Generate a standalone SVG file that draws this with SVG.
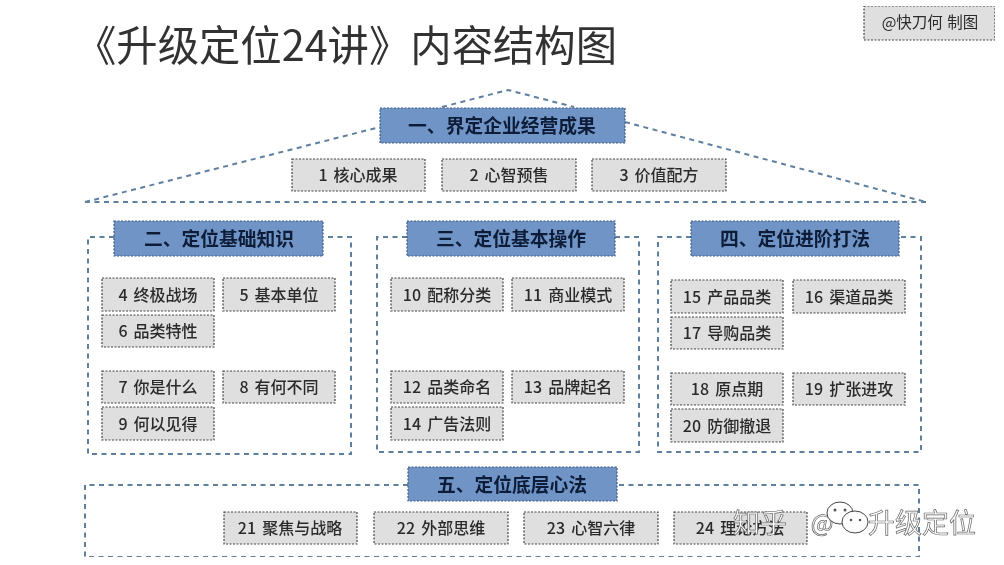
<svg xmlns="http://www.w3.org/2000/svg" width="1004" height="565" viewBox="0 0 1004 565">
<style>
text{font-family:"Noto Sans CJK SC","Liberation Sans",sans-serif;text-anchor:middle;dominant-baseline:central}
.i rect{fill:#dfdfdf;stroke:#444;stroke-width:1.2;stroke-dasharray:2 1.5}
.i text{font-size:16px;font-weight:500;fill:#2b2b2b;word-spacing:2.5px}
.h rect{fill:#6f94c6;stroke:#3f5b85;stroke-width:1.2;stroke-dasharray:2 1.5}
.h text{font-size:18.8px;font-weight:700;fill:#101f38}
.c *{fill:none;stroke:#5f7f9f;stroke-width:2;stroke-dasharray:5 4.5}
.wm{font-size:27px;fill:#fff;stroke:#666;stroke-width:.7}
.wb{fill:#fff;stroke:#444}
.wd{fill:#555}
</style>
<defs><filter id="soft" x="0" y="0" width="100%" height="100%"><feGaussianBlur stdDeviation="0.45"/></filter></defs>
<rect width="1004" height="565" fill="#fff"/>
<g filter="url(#soft)">
<text id="title" x="346" y="42" style="font-size:42px;fill:#333;font-weight:400" textLength="542" lengthAdjust="spacingAndGlyphs">《升级定位24讲》内容结构图</text>
<g id="credit" class="i"><rect x="864" y="6" width="131" height="34"/><text x="930" y="21" style="font-size:15.5px;word-spacing:1px;font-weight:400">@快刀何 制图</text></g>
<g id="connectors" class="c">
<path d="M85 202L380 127M625 122L926 202M85 202H926M442 107L508 90L574 107"/>
<path d="M114 237H88V454H351V237H324"/>
<path d="M407 237H377V452H639V237H615"/>
<path d="M691 237H658V452H921V237H899"/>
<path d="M408 485H85V557H919V485H617"/>
</g>
<g id="n1" class="h"><rect x="380" y="108" width="245" height="35"/><text x="502" y="124">一、界定企业经营成果</text></g>
<g id="n2" class="h"><rect x="114" y="221" width="209" height="35"/><text x="219" y="237">二、定位基础知识</text></g>
<g id="n3" class="h"><rect x="407" y="221" width="208" height="35"/><text x="511" y="237">三、定位基本操作</text></g>
<g id="n4" class="h"><rect x="691" y="221" width="208" height="35"/><text x="795" y="237">四、定位进阶打法</text></g>
<g id="n5" class="h"><rect x="408" y="467" width="209" height="34"/><text x="512" y="483">五、定位底层心法</text></g>
<g id="i1" class="i"><rect x="292" y="159" width="133" height="32"/><text x="358" y="174">1 核心成果</text></g>
<g id="i2" class="i"><rect x="442" y="159" width="134" height="32"/><text x="509" y="174">2 心智预售</text></g>
<g id="i3" class="i"><rect x="592" y="159" width="134" height="32"/><text x="659" y="174">3 价值配方</text></g>
<g id="i4" class="i"><rect x="102" y="278" width="112" height="33"/><text x="158" y="294">4 终极战场</text></g>
<g id="i5" class="i"><rect x="223" y="278" width="112" height="33"/><text x="279" y="294">5 基本单位</text></g>
<g id="i6" class="i"><rect x="102" y="315" width="112" height="32"/><text x="158" y="330">6 品类特性</text></g>
<g id="i7" class="i"><rect x="102" y="371" width="112" height="32"/><text x="158" y="386">7 你是什么</text></g>
<g id="i8" class="i"><rect x="223" y="371" width="112" height="32"/><text x="279" y="386">8 有何不同</text></g>
<g id="i9" class="i"><rect x="102" y="407" width="112" height="33"/><text x="158" y="423">9 何以见得</text></g>
<g id="i10" class="i"><rect x="391" y="278" width="112" height="33"/><text x="447" y="294">10 配称分类</text></g>
<g id="i11" class="i"><rect x="512" y="278" width="112" height="33"/><text x="568" y="294">11 商业模式</text></g>
<g id="i12" class="i"><rect x="391" y="371" width="112" height="32"/><text x="447" y="386">12 品类命名</text></g>
<g id="i13" class="i"><rect x="512" y="371" width="112" height="32"/><text x="568" y="386">13 品牌起名</text></g>
<g id="i14" class="i"><rect x="391" y="407" width="112" height="33"/><text x="447" y="423">14 广告法则</text></g>
<g id="i15" class="i"><rect x="671" y="280" width="112" height="33"/><text x="727" y="296">15 产品品类</text></g>
<g id="i16" class="i"><rect x="793" y="280" width="112" height="33"/><text x="849" y="296">16 渠道品类</text></g>
<g id="i17" class="i"><rect x="671" y="317" width="112" height="32"/><text x="727" y="332">17 导购品类</text></g>
<g id="i18" class="i"><rect x="671" y="373" width="112" height="32"/><text x="727" y="388">18 原点期</text></g>
<g id="i19" class="i"><rect x="793" y="373" width="112" height="32"/><text x="849" y="388">19 扩张进攻</text></g>
<g id="i20" class="i"><rect x="671" y="409" width="112" height="33"/><text x="727" y="425">20 防御撤退</text></g>
<g id="i21" class="i"><rect x="224" y="512" width="133" height="32"/><text x="290" y="527">21 聚焦与战略</text></g>
<g id="i22" class="i"><rect x="374" y="512" width="134" height="32"/><text x="441" y="527">22 外部思维</text></g>
<g id="i23" class="i"><rect x="524" y="512" width="134" height="32"/><text x="591" y="527">23 心智六律</text></g>
<g id="i24" class="i"><rect x="674" y="512" width="133" height="32"/><text x="740" y="527">24 理论方法</text></g>
<g id="watermark">
<text class="wm" x="760" y="521">知乎</text>
<text class="wm" x="822" y="521" style="font-size:24px">@</text>
<text class="wm" x="922" y="521">升级定位</text>
<ellipse class="wb" cx="840" cy="513" rx="13" ry="11"/>
<ellipse class="wb" cx="855" cy="522" rx="13" ry="11"/>
<circle class="wd" cx="835" cy="510" r="1.5"/><circle class="wd" cx="845" cy="510" r="1.5"/><circle class="wd" cx="851" cy="520" r="1.3"/><circle class="wd" cx="860" cy="520" r="1.3"/>
</g>
</g>
</svg>
